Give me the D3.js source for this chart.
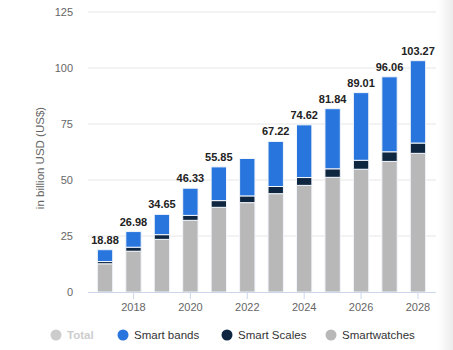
<!DOCTYPE html>
<html>
<head>
<meta charset="utf-8">
<script src="https://cdn.jsdelivr.net/npm/d3@7"></script>
<style>
  body { margin: 0; background: #fff; }
  text { font-family: "Liberation Sans", Arial, sans-serif; }
</style>
</head>
<body>
<div id="chart"></div>
<script>
// values (billion USD)
let years = ["2017","2018","2019","2020","2021","2022","2023","2024","2025","2026","2027","2028"];
let smartwatches = [12.6, 18.2, 23.5, 32.0, 37.8, 39.9, 43.9, 47.6, 51.2, 54.8, 58.3, 61.9];
let smartScales  = [1.0, 1.8, 2.1, 2.2, 3.0, 3.0, 3.2, 3.5, 3.8, 4.0, 4.3, 4.6];
let smartBands   = [5.28, 6.98, 9.05, 12.13, 15.05, 16.7, 20.12, 23.52, 26.84, 30.21, 33.46, 36.77];
let totalLabels  = ["18.88","26.98","34.65","46.33","55.85",null,"67.22","74.62","81.84","89.01","96.06","103.27"];
let yTicks = [0, 25, 50, 75, 100, 125];
let xTickYears = ["2018","2020","2022","2024","2026","2028"];

let keys = ["Smartwatches", "Smart Scales", "Smart bands"];
let colors = {"Smart bands": "#2876dd", "Smart Scales": "#0f2640", "Smartwatches": "#b8b8b8"};
let legendItems = ["Total", "Smart bands", "Smart Scales", "Smartwatches"];

let data = years.map((y, i) => ({
  year: y,
  "Smartwatches": smartwatches[i],
  "Smart Scales": smartScales[i],
  "Smart bands": smartBands[i],
  label: totalLabels[i]
}));

let W = 453, H = 350;
let svg = d3.select("#chart").append("svg").attr("width", W).attr("height", H);

// faint shade on right edge
let defs = svg.append("defs");
let grad = defs.append("linearGradient").attr("id", "fade");
grad.append("stop").attr("offset", "0%").attr("stop-color", "#fff");
grad.append("stop").attr("offset", "100%").attr("stop-color", "#ececec");
svg.append("rect").attr("x", 438).attr("y", 0).attr("width", 15).attr("height", H).attr("fill", "url(#fade)");

let plotLeft = 88, plotRight = 436, plotTop = 12, plotBottom = 292;

let y = d3.scaleLinear().domain([0, 125]).range([plotBottom, plotTop]);
let x = d3.scaleBand().domain(years).range([90.8, 432.2]).paddingInner(0.46).paddingOuter(0.23);

// grid
svg.append("g").selectAll("line")
  .data(yTicks.filter(d => d > 0))
  .enter().append("line")
  .attr("x1", plotLeft).attr("x2", plotRight)
  .attr("y1", d => y(d)).attr("y2", d => y(d))
  .attr("stroke", "#e6e6e6").attr("stroke-width", 1);

// y axis labels
let yAxis = svg.append("g").attr("transform", `translate(${plotLeft},0)`)
  .call(d3.axisLeft(y).tickValues(yTicks).tickSize(0).tickPadding(15));
yAxis.select(".domain").remove();
yAxis.selectAll("text").attr("fill", "#666").style("font-size", "11px");

svg.append("text")
  .attr("transform", `translate(44,${(plotTop + plotBottom) / 2 + 6}) rotate(-90)`)
  .attr("text-anchor", "middle")
  .attr("fill", "#666")
  .style("font-size", "11.5px")
  .text("in billion USD (US$)");

// bars
let stack = d3.stack().keys(keys)(data);
svg.append("g").selectAll("g")
  .data(stack)
  .enter().append("g")
  .attr("fill", d => colors[d.key])
  .selectAll("rect")
  .data(d => d)
  .enter().append("rect")
  .attr("x", d => x(d.data.year))
  .attr("y", d => y(d[1]))
  .attr("width", x.bandwidth())
  .attr("height", d => y(d[0]) - y(d[1]))
  .attr("stroke", "#f2f5fa")
  .attr("stroke-width", 1);

// total labels
svg.append("g").selectAll("text")
  .data(data.filter(d => d.label))
  .enter().append("text")
  .attr("x", d => x(d.year) + x.bandwidth() / 2)
  .attr("y", d => y(d3.sum(keys, k => d[k])) - 6)
  .attr("text-anchor", "middle")
  .attr("fill", "#222")
  .style("font-size", "11px")
  .style("font-weight", "bold")
  .text(d => d.label);

// x axis
svg.append("line")
  .attr("x1", plotLeft).attr("x2", plotRight)
  .attr("y1", plotBottom + 0.5).attr("y2", plotBottom + 0.5)
  .attr("stroke", "#ccd6eb");
let xAxis = svg.append("g").attr("transform", `translate(0,${plotBottom})`)
  .call(d3.axisBottom(x).tickValues(xTickYears).tickSize(7).tickPadding(4));
xAxis.select(".domain").remove();
xAxis.selectAll("line").attr("stroke", "#ccd6eb");
xAxis.selectAll("text").attr("fill", "#666").style("font-size", "11px");

// legend
let legendX = [56, 123, 227, 331];
let legend = svg.append("g").selectAll("g")
  .data(legendItems)
  .enter().append("g")
  .attr("transform", (d, i) => `translate(${legendX[i]},335)`);
legend.append("circle")
  .attr("r", 5.5)
  .attr("fill", d => d == "Total" ? "#cccccc" : colors[d]);
legend.append("text")
  .attr("x", 11)
  .attr("y", 4)
  .attr("fill", d => d == "Total" ? "#cccccc" : "#333")
  .style("font-size", "11.5px")
  .style("font-weight", d => d == "Total" ? "bold" : "normal")
  .text(d => d);
</script>
</body>
</html>
